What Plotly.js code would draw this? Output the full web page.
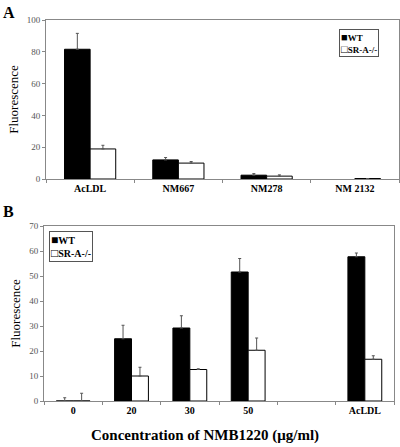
<!DOCTYPE html>
<html>
<head>
<meta charset="utf-8">
<script src="https://cdn.plot.ly/plotly-3.0.1.min.js"></script>
<style>html,body{margin:0;padding:0;background:#fff;}#chart{width:400px;height:447px;}</style>
</head>
<body>
<div id="chart"></div>
<script>
// Panel A data
const catsA = ['AcLDL', 'NM667', 'NM278', 'NM 2132'];
const wtA = [81.6, 12, 2.4, null];
const wtErrA = [10, 1.5, 1, null];
const srA = [18.9, 10, 1.8, 0.3];
const srErrA = [2.3, 1, 0.8, 0];
const yTicksA = [0, 20, 40, 60, 80, 100];

// Panel B data
const catsB = ['0', '20', '30', '50', ' ', 'AcLDL'];
const wtB = [0, 24.9, 29.2, 51.6, null, 57.7];
const wtErrB = [1.3, 5.4, 4.9, 5.4, null, 1.5];
const srB = [0, 10, 12.6, 20.3, null, 16.7];
const srErrB = [3.1, 3.5, 0.3, 4.9, null, 1.4];
const yTicksB = [0, 10, 20, 30, 40, 50, 60, 70];

const seriesNames = ['WT', 'SR-A-/-'];
const xTitleB = 'Concentration of NMB1220 (μg/ml)';

const serif = '"Liberation Serif", "Times New Roman", serif';
const zeros = a => a.map(v => (v === null ? null : 0));

function errs(arr) {
  return {type: 'data', array: arr, arrayminus: zeros(arr), symmetric: false,
          color: '#555', thickness: 1, width: 1.5};
}

const traces = [
  {type: 'bar', x: catsA, y: wtA, name: seriesNames[0], xaxis: 'x', yaxis: 'y',
   marker: {color: '#000', line: {color: '#000', width: 1}}, error_y: errs(wtErrA)},
  {type: 'bar', x: catsA, y: srA, name: seriesNames[1], xaxis: 'x', yaxis: 'y',
   marker: {color: '#fff', line: {color: '#000', width: 1}}, error_y: errs(srErrA)},
  {type: 'bar', x: catsB, y: wtB, name: seriesNames[0], xaxis: 'x2', yaxis: 'y2',
   marker: {color: '#000', line: {color: '#000', width: 1}}, error_y: errs(wtErrB)},
  {type: 'bar', x: catsB, y: srB, name: seriesNames[1], xaxis: 'x2', yaxis: 'y2',
   marker: {color: '#fff', line: {color: '#000', width: 1}}, error_y: errs(srErrB)}
];

const W = 400, H = 447;
const axisCommon = {
  showgrid: false, zeroline: false, showline: true, linecolor: '#888', linewidth: 1,
  mirror: true, ticks: 'outside', ticklen: 3, tickcolor: '#888', tickwidth: 1
};

function legendText(sz) {
  const sq = s => '<span style="font-size:' + sz + 'px">' + s + '</span>';
  return '<b>' + sq('■') + seriesNames[0] + '<br>' + sq('□') + seriesNames[1] + '</b>';
}

const layout = {
  width: W, height: H,
  margin: {l: 0, r: 0, t: 0, b: 0},
  paper_bgcolor: '#fff', plot_bgcolor: '#fff',
  font: {family: serif, color: '#000'},
  barmode: 'group', bargap: 0.42, bargroupgap: 0,
  showlegend: false,
  xaxis: Object.assign({}, axisCommon, {
    domain: [46 / W, 399 / W], anchor: 'y', type: 'category',
    categoryorder: 'array', categoryarray: catsA, tickson: 'boundaries',
    tickfont: {family: serif, size: 10, color: '#000', weight: 'bold'}
  }),
  yaxis: Object.assign({}, axisCommon, {
    domain: [(H - 179) / H, (H - 20) / H], anchor: 'x', range: [0, 100],
    tickvals: yTicksA, tickfont: {family: serif, size: 9, color: '#555'},
    title: {text: 'Fluorescence', font: {family: serif, size: 13, color: '#000'}, standoff: 5}
  }),
  xaxis2: Object.assign({}, axisCommon, {
    domain: [44 / W, 394 / W], anchor: 'y2', type: 'category',
    categoryorder: 'array', categoryarray: catsB, tickson: 'boundaries',
    tickfont: {family: serif, size: 10, color: '#000', weight: 'bold'}
  }),
  yaxis2: Object.assign({}, axisCommon, {
    domain: [(H - 401) / H, (H - 226) / H], anchor: 'x2', range: [0, 70],
    tickvals: yTicksB, tickfont: {family: serif, size: 9, color: '#555'},
    title: {text: 'Fluorescence', font: {family: serif, size: 13, color: '#000'}, standoff: 5}
  }),
  annotations: [
    {text: '<b>A</b>', x: 1 / W, y: 1 - 2 / H, xref: 'paper', yref: 'paper', xanchor: 'left', yanchor: 'top',
     showarrow: false, font: {family: serif, size: 16, color: '#000'}},
    {text: '<b>B</b>', x: 1 / W, y: 1 - 201 / H, xref: 'paper', yref: 'paper', xanchor: 'left', yanchor: 'top',
     showarrow: false, font: {family: serif, size: 16, color: '#000'}},
    {text: '<b>' + xTitleB + '</b>', x: 205 / W, y: 1 - 446 / H, xref: 'paper', yref: 'paper',
     xanchor: 'center', yanchor: 'bottom', showarrow: false,
     font: {family: serif, size: 15, color: '#000'}},
    {text: legendText(11), align: 'left', x: 379 / W, y: 1 - 29 / H, xref: 'paper', yref: 'paper',
     xanchor: 'right', yanchor: 'top', showarrow: false, bgcolor: '#fff', bordercolor: '#555',
     borderwidth: 1, borderpad: 1, font: {family: serif, size: 9, color: '#000'}},
    {text: legendText(12), align: 'left', x: 49 / W, y: 1 - 231 / H, xref: 'paper', yref: 'paper',
     xanchor: 'left', yanchor: 'top', showarrow: false, bgcolor: '#fff', bordercolor: '#555',
     borderwidth: 1, borderpad: 1, font: {family: serif, size: 10, color: '#000'}}
  ]
};

Plotly.newPlot('chart', traces, layout, {displayModeBar: false, staticPlot: true});
</script>
</body>
</html>
